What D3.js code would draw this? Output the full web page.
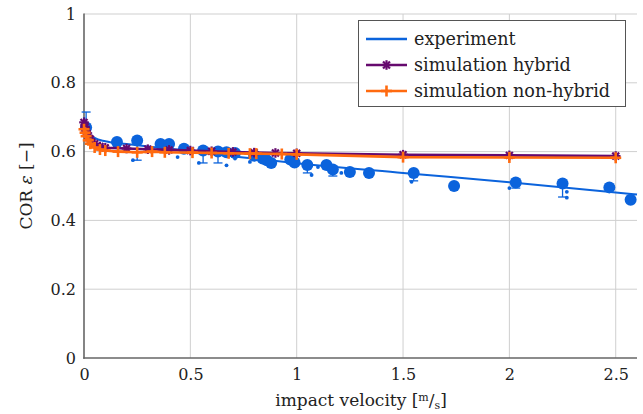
<!DOCTYPE html>
<html><head><meta charset="utf-8">
<script src="https://cdn.jsdelivr.net/npm/d3@7"></script>
<style>body{margin:0;background:#fff}svg{display:block}</style>
</head><body><svg id="c" width="643" height="414"></svg>
<script>
// experiment: fitted curve
const fitV   = [0, 0.01, 0.025, 0.05, 0.1, 0.2, 0.3, 0.5, 0.75, 1.0, 1.5, 2.0, 2.6];
const fitCOR = [0.70, 0.672, 0.652, 0.640, 0.630, 0.622, 0.615, 0.602, 0.583, 0.566, 0.538, 0.511, 0.475];
// experiment: mean values
const expV   = [0.01, 0.155, 0.25, 0.36, 0.40, 0.47, 0.56, 0.63, 0.67, 0.71, 0.80, 0.84, 0.86, 0.88, 0.97, 0.99, 1.05, 1.14, 1.17, 1.25, 1.34, 1.55, 1.74, 2.03, 2.25, 2.47, 2.57];
const expCOR = [0.67, 0.628, 0.632, 0.622, 0.622, 0.608, 0.603, 0.600, 0.598, 0.596, 0.588, 0.580, 0.575, 0.567, 0.577, 0.568, 0.561, 0.561, 0.548, 0.541, 0.538, 0.538, 0.500, 0.510, 0.507, 0.496, 0.460];
// experiment: error bar ends
const errV   = [0.01, 0.25, 0.56, 0.63, 1.05, 1.17, 1.55, 2.03, 2.25];
const errMid = [0.67, 0.632, 0.603, 0.600, 0.561, 0.548, 0.538, 0.510, 0.507];
const errEnd = [0.715, 0.575, 0.567, 0.567, 0.538, 0.529, 0.515, 0.494, 0.468];
// experiment: single measurements
const singleV   = [0.23, 0.44, 0.54, 0.67, 0.71, 0.78, 0.88, 1.07, 1.10, 1.21, 1.54, 2.00, 2.27, 2.27];
const singleCOR = [0.575, 0.584, 0.567, 0.560, 0.580, 0.570, 0.562, 0.532, 0.555, 0.538, 0.512, 0.494, 0.483, 0.466];
// simulation hybrid
const hybV   = [0, 0.005, 0.01, 0.02, 0.03, 0.05, 0.075, 0.1, 0.2, 0.3, 0.4, 0.5, 0.6, 0.7, 0.8, 0.9, 1.0, 1.5, 2.0, 2.5];
const hybCOR = [0.685, 0.672, 0.660, 0.646, 0.636, 0.623, 0.615, 0.611, 0.609, 0.607, 0.605, 0.603, 0.601, 0.599, 0.597, 0.596, 0.595, 0.591, 0.589, 0.587];
// simulation non-hybrid
const nonV   = [0, 0.005, 0.01, 0.02, 0.03, 0.05, 0.075, 0.1, 0.16, 0.25, 0.32, 0.38, 0.51, 0.60, 0.68, 0.78, 0.81, 0.93, 1.0, 1.5, 2.0, 2.5];
const nonCOR = [0.665, 0.655, 0.645, 0.633, 0.623, 0.612, 0.606, 0.603, 0.600, 0.598, 0.600, 0.598, 0.597, 0.596, 0.595, 0.594, 0.594, 0.593, 0.592, 0.584, 0.583, 0.582];
const xTicks = [0, 0.5, 1, 1.5, 2, 2.5];
const yTicks = [0, 0.2, 0.4, 0.6, 0.8, 1];
const legendLabels = ["experiment", "simulation hybrid", "simulation non-hybrid"];

const FONT = "'DejaVu Serif', serif";
const BLUE = "#0b63dc", PURPLE = "#660a6e", ORANGE = "#ff6a0f";
const svg = d3.select("#c");
const x = d3.scaleLinear().domain([0, 2.6]).range([84, 637]);
const y = d3.scaleLinear().domain([0, 1]).range([358, 14]);

// grid
const g = svg.append("g");
g.selectAll(".gx").data(xTicks.slice(1)).join("line")
  .attr("x1", d => x(d)).attr("x2", d => x(d)).attr("y1", y(0)).attr("y2", y(1))
  .attr("stroke", "#cfcfcf").attr("stroke-width", 1);
g.selectAll(".gy").data(yTicks.slice(1)).join("line")
  .attr("y1", d => y(d)).attr("y2", d => y(d)).attr("x1", x(0)).attr("x2", x(2.6))
  .attr("stroke", "#cfcfcf").attr("stroke-width", 1);

// axes
const xAxis = d3.axisBottom(x).tickValues(xTicks).tickSize(0).tickPadding(8).tickFormat(d => d);
const yAxis = d3.axisLeft(y).tickValues(yTicks).tickSize(0).tickPadding(8).tickFormat(d => d);
const gx = svg.append("g").attr("transform", `translate(0,${y(0)})`).call(xAxis);
const gy = svg.append("g").attr("transform", `translate(${x(0)},0)`).call(yAxis);
[gx, gy].forEach(a => {
  a.attr("font-family", null);
  a.select(".domain").remove();
  a.selectAll("text").style("font-family", FONT).style("font-size", "16px").attr("fill", "#222");
});
gx.selectAll("text").attr("dy", "0.85em");
gy.selectAll("text").attr("dx", "0px");
svg.append("line").attr("x1", x(0)).attr("x2", x(0)).attr("y1", y(1) - 0.5).attr("y2", y(0) + 0.8)
  .attr("stroke", "#666").attr("stroke-width", 1.6);
svg.append("line").attr("x1", x(0) - 0.8).attr("x2", x(2.6)).attr("y1", y(0)).attr("y2", y(0))
  .attr("stroke", "#666").attr("stroke-width", 1.6);

const line = d3.line().x(d => x(d[0])).y(d => y(d[1]));
const plot = svg.append("g");

// experiment
const errData = errV.map((v, i) => [v, errMid[i], errEnd[i]]);
plot.selectAll(".eb").data(errData).join("line")
  .attr("x1", d => x(d[0])).attr("x2", d => x(d[0])).attr("y1", d => y(d[1])).attr("y2", d => y(d[2]))
  .attr("stroke", BLUE).attr("stroke-width", 1.3);
plot.selectAll(".ec").data(errData).join("line")
  .attr("x1", d => x(d[0]) - 4.5).attr("x2", d => x(d[0]) + 4.5).attr("y1", d => y(d[2])).attr("y2", d => y(d[2]))
  .attr("stroke", BLUE).attr("stroke-width", 1.3);
plot.selectAll(".sd").data(singleV.map((v, i) => [v, singleCOR[i]])).join("circle")
  .attr("cx", d => x(d[0])).attr("cy", d => y(d[1])).attr("r", 1.9).attr("fill", BLUE);
plot.append("path").datum(fitV.map((v, i) => [v, fitCOR[i]]))
  .attr("d", line.curve(d3.curveMonotoneX)).attr("fill", "none").attr("stroke", BLUE).attr("stroke-width", 2);
plot.selectAll(".md").data(expV.map((v, i) => [v, expCOR[i]])).join("circle")
  .attr("cx", d => x(d[0])).attr("cy", d => y(d[1])).attr("r", 6).attr("fill", BLUE);

// markers
function star(sel, c) {
  const s = 4.8;
  sel.each(function(d) {
    const gg = d3.select(this);
    const cx = x(d[0]), cy = y(d[1]);
    [[0, s], [s, 0], [s * 0.72, s * 0.72], [s * 0.72, -s * 0.72]].forEach(([dx, dy]) =>
      gg.append("line").attr("x1", cx - dx).attr("x2", cx + dx).attr("y1", cy - dy).attr("y2", cy + dy)
        .attr("stroke", c).attr("stroke-width", 2.2));
  });
}
function plus(sel, c) {
  const s = 5.5;
  sel.each(function(d) {
    const gg = d3.select(this);
    const cx = x(d[0]), cy = y(d[1]);
    [[0, s], [s, 0]].forEach(([dx, dy]) =>
      gg.append("line").attr("x1", cx - dx).attr("x2", cx + dx).attr("y1", cy - dy).attr("y2", cy + dy)
        .attr("stroke", c).attr("stroke-width", 2.6));
  });
}

const hyb = hybV.map((v, i) => [v, hybCOR[i]]);
plot.append("path").datum(hyb).attr("d", d3.line().x(d => x(d[0])).y(d => y(d[1])))
  .attr("fill", "none").attr("stroke", PURPLE).attr("stroke-width", 2.6);
plot.selectAll(".hm").data(hyb).join("g").call(star, PURPLE);

const non = nonV.map((v, i) => [v, nonCOR[i]]);
plot.append("path").datum(non).attr("d", d3.line().x(d => x(d[0])).y(d => y(d[1])))
  .attr("fill", "none").attr("stroke", ORANGE).attr("stroke-width", 2.6);
plot.selectAll(".nm").data(non).join("g").call(plus, ORANGE);

// legend
const lg = svg.append("g");
lg.append("rect").attr("x", 358.5).attr("y", 20.5).attr("width", 267).attr("height", 86)
  .attr("fill", "#fff").attr("stroke", "#555").attr("stroke-width", 1);
const colors = [BLUE, PURPLE, ORANGE];
legendLabels.forEach((t, i) => {
  const yy = 39 + i * 26;
  lg.append("line").attr("x1", 366).attr("x2", 407).attr("y1", yy).attr("y2", yy)
    .attr("stroke", colors[i]).attr("stroke-width", 2.6);
  if (i === 1) lg.append("g").datum([x.invert(386.5), y.invert(yy)]).call(star, PURPLE);
  if (i === 2) lg.append("g").datum([x.invert(386.5), y.invert(yy)]).call(plus, ORANGE);
  lg.append("text").attr("x", 414).attr("y", yy + 5.5).text(t)
    .style("font-family", FONT).style("font-size", "17.6px").attr("fill", "#222");
});

// axis labels
const xl = svg.append("text").attr("x", 361).attr("y", 406).attr("text-anchor", "middle")
  .style("font-family", FONT).style("font-size", "17px").attr("fill", "#222");
xl.append("tspan").text("impact velocity [");
xl.append("tspan").attr("dy", -5).style("font-size", "11px").text("m");
xl.append("tspan").attr("dy", 5).text("/");
xl.append("tspan").attr("dy", 3).style("font-size", "11px").text("s");
xl.append("tspan").attr("dy", -3).text("]");
svg.append("text").attr("transform", "translate(32,186) rotate(-90)").attr("text-anchor", "middle")
  .style("font-family", FONT).style("font-size", "17px").attr("fill", "#222")
  .html('COR <tspan font-style="italic">ε</tspan> [−]');
</script></body></html>
